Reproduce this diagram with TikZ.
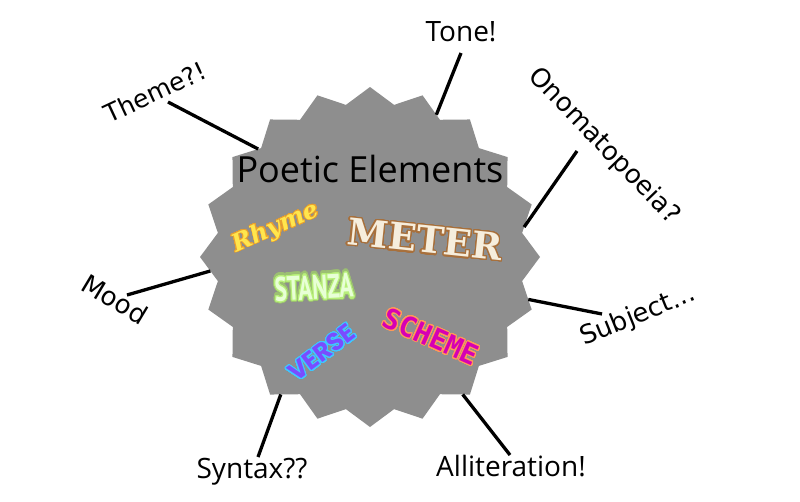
\documentclass[tikz,border=0pt]{standalone}
\usepackage{fontspec}
\setmainfont{Open Sans}
\newfontfamily\labfont{DejaVu Sans}
\newfontfamily\meterfont{DejaVu Serif}
\newfontfamily\stanzafont{PT Sans}
\newfontfamily\schemefont{DejaVu Sans Mono}
\newfontfamily\versefont{Poppins}
\usepackage{contour}
\contournumber{32}
\usetikzlibrary{shapes.geometric}
\definecolor{stargray}{HTML}{8E8E8E}
\definecolor{rhymeyellow}{HTML}{FFE64D}
\definecolor{rhymeedge}{HTML}{E8A030}
\definecolor{metercream}{HTML}{F6EEDD}
\definecolor{meterbrown}{HTML}{A8703C}
\definecolor{stanzatext}{HTML}{E8FFD6}
\definecolor{glowouter}{HTML}{9CC072}
\definecolor{glowinner}{HTML}{B8F07A}
\definecolor{schememag}{HTML}{D600B4}
\definecolor{schemeorange}{HTML}{FF9A58}
\definecolor{versepurple}{HTML}{7A4CFF}
\definecolor{versecyan}{HTML}{3FC8FF}
\begin{document}
\begin{tikzpicture}[x=1pt,y=-1pt,
  lab/.style={font=\labfont\fontsize{26}{26}\selectfont, inner sep=0pt, text=black},
  plainlab/.style={font=\fontsize{28}{28}\selectfont, inner sep=0pt, text=black},
  conn/.style={draw=black, line width=3.3pt},
  word/.style={inner sep=0pt}]
\useasboundingbox (0,0) rectangle (800,501);
\fill[white] (0,0) rectangle (800,501);

% central starburst
\node[star, star points=20, star point ratio=1.104, minimum size=340pt,
      fill=stargray, draw=none, inner sep=0pt, outer sep=0pt] (core) at (370,257) {};

% title
\node[font=\fontsize{36}{36}\selectfont, inner sep=0pt, anchor=base] (title) at (370,182) {Poetic Elements};

% decorative words
\node[word, rotate=24, font=\meterfont\bfseries\itshape\fontsize{24}{24}\selectfont] (rhyme) at (276,228)
  {\contourlength{0.6pt}\contour{rhymeedge}{\textcolor{rhymeyellow}{Rhyme}}};
\node[word, rotate=-6, font=\meterfont\bfseries\fontsize{37}{37}\selectfont] (meter) at (425,240)
  {\contourlength{1.3pt}\contour{meterbrown}{\textcolor{metercream}{METER}}};
\node[word, rotate=3, xscale=0.68, font=\stanzafont\bfseries\fontsize{34}{34}\selectfont] (stanzaglow) at (314,288)
  {\contourlength{3.2pt}\contour{glowouter}{\textcolor{glowouter}{STANZA}}};
\node[word, rotate=3, xscale=0.68, font=\stanzafont\bfseries\fontsize{34}{34}\selectfont] (stanza) at (314,288)
  {\contourlength{1.3pt}\contour{glowinner}{\textcolor{stanzatext}{STANZA}}};
\node[word, rotate=-24, font=\schemefont\bfseries\fontsize{28}{28}\selectfont] (scheme) at (431,337)
  {\contourlength{1pt}\contour{schemeorange}{\textcolor{schememag}{SCHEME}}};
\node[word, rotate=37, font=\versefont\bfseries\fontsize{25}{25}\selectfont] (verse) at (322,353)
  {\contourlength{1pt}\contour{versecyan}{\textcolor{versepurple}{VERSE}}};

% labels
\node[lab, rotate=25, font=\labfont\fontsize{25}{25}\selectfont] (theme) at (155,92) {Theme?!};
\node[plainlab] (tone) at (461,32) {Tone!};
\node[lab, rotate=-46] (ono) at (604,146) {Onomatopoeia?};
\node[lab, rotate=-31] (mood) at (115,299) {Mood};
\node[lab, rotate=22] (subject) at (638,316) {Subject...};
\node[plainlab] (syntax) at (252,472) {Syntax??};
\node[plainlab] (allit) at (511,466) {Alliteration!};

% connector free ends
\coordinate (themeEnd) at (168,102);
\coordinate (toneEnd) at (461,53);
\coordinate (onoEnd) at (577,151);
\coordinate (moodEnd) at (127,295);
\coordinate (subjectEnd) at (602,314);
\coordinate (syntaxEnd) at (258,457);
\coordinate (allitEnd) at (510,455);

% connectors
\draw[conn] (themeEnd) -- (core.136);
\draw[conn] (toneEnd) -- (core.65);
\draw[conn] (onoEnd) -- (core.11);
\draw[conn] (moodEnd) -- (core.185);
\draw[conn] (subjectEnd) -- (core.-15);
\draw[conn] (syntaxEnd) -- (core.-123);
\draw[conn] (allitEnd) -- (core.-56);
\end{tikzpicture}
\end{document}
